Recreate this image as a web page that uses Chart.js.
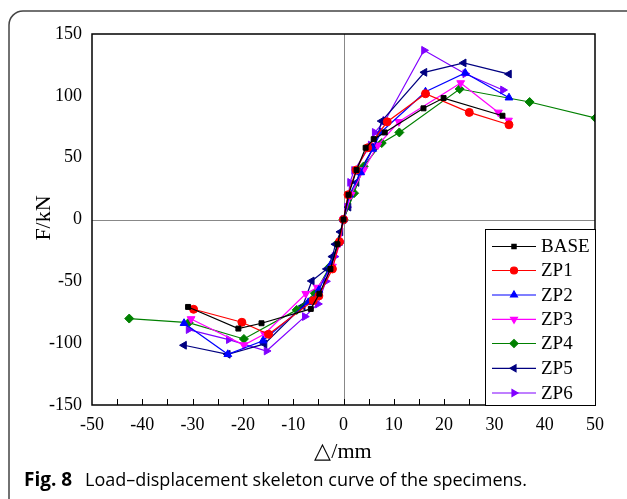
<!DOCTYPE html>
<html>
<head>
<meta charset="utf-8">
<script src="https://cdn.jsdelivr.net/npm/chart.js@4.4.1/dist/chart.umd.min.js"></script>
<style>
html,body{margin:0;padding:0;background:#fff;}
#wrap{width:627px;height:499px;position:relative;}
</style>
</head>
<body>
<div id="wrap"><canvas id="c" width="627" height="499"></canvas></div>
<script>
const seriesNames = ["BASE","ZP1","ZP2","ZP3","ZP4","ZP5","ZP6"];
const xTicks = [-50,-40,-30,-20,-10,0,10,20,30,40,50];
const yTicks = [-150,-100,-50,0,50,100,150];

const baseX = [-30.9,-20.9,-16.3,-6.5,-4.8,-2.6,-1.2,0,1.0,2.6,4.4,6.0,8.2,15.9,19.9,31.6];
const baseY = [-70.7,-88.2,-83.9,-72.3,-60,-40,-20,0,20,40,58,65,70.4,89.9,98.2,83.9];
const zp1X = [-29.8,-20.2,-14.9,-6.0,-4.9,-2.2,-0.8,0,0.9,2.5,4.8,8.7,16.3,25.0,32.9];
const zp1Y = [-72.6,-83.1,-92.8,-65.6,-61.8,-40,-18,0,20,40,58,79,101.7,86.6,76.6];
const zp2X = [-31.7,-23.0,-16.0,-7.0,-4.9,-2.6,-1.0,0,1.2,3.4,5.8,7.4,16.3,24.2,32.9];
const zp2Y = [-83.9,-109,-98,-67,-57,-37,-19,0,20,38,57,70.4,103.3,118.5,98.5];
const zp3X = [-30.3,-19.8,-15.7,-7.5,-5.2,-2.2,-0.7,0,1.5,4.0,6.8,11.0,23.3,30.8,32.8];
const zp3Y = [-80.4,-101.5,-92.6,-60,-55,-38,-19,0,20,40,60,79,110.4,86.6,80.1];
const zp4X = [-42.6,-30.8,-19.8,-9.3,-5.7,-2.7,-0.9,0,2.1,4.0,7.6,11.1,23.1,37.0,50.1];
const zp4Y = [-80.1,-83.4,-96.6,-73.1,-59.6,-38,-18,0,21.3,42.9,61.8,70.4,105.5,95,82];
const zp5X = [-31.7,-23.0,-15.7,-8.1,-6.3,-3.3,-2.2,-1.6,-0.6,0,1.0,2.6,3.3,6.2,7.6,16.1,23.9,32.9];
const zp5Y = [-101.7,-109,-100.6,-70,-49.7,-40,-30,-20,-10,0,10,30,39.7,59.9,79.6,119,126.6,117.6];
const zp6X = [-30.8,-22.8,-15.3,-7.7,-5.1,-3.5,-1.8,-0.8,0,0.7,1.3,2.1,5.4,6.2,8.3,16.0,24.2,31.7];
const zp6Y = [-89,-97.1,-106.3,-78.5,-68.3,-50,-30,-19,0,10,30,39.7,60.2,70.4,80.1,136.8,117.9,104.7];

const allX = [baseX,zp1X,zp2X,zp3X,zp4X,zp5X,zp6X];
const allY = [baseY,zp1Y,zp2Y,zp3Y,zp4Y,zp5Y,zp6Y];
const colors = ["#000000","#ff0000","#0000ff","#ff00ff","#008000","#000080","#8000ff"];
const styles = ["rect","circle","triangle","triangle","rectRot","triangle","triangle"];
const rots = [0,0,0,180,0,-90,90];
const radii = [3.5,4,4.5,4.5,4.5,4.5,4.5];

const datasets = seriesNames.map((n,i)=>({
  label:n,
  data: allX[i].map((x,j)=>({x:x,y:allY[i][j]})),
  showLine:true,
  borderColor:colors[i],
  backgroundColor:colors[i],
  borderWidth:1.2,
  pointStyle:styles[i],
  pointRotation:rots[i],
  pointRadius:radii[i],
  pointBorderWidth:1,
  tension:0
}));

const SERIF = "'Liberation Serif','Times New Roman',serif";

const deco = {
  id:'deco',
  beforeDraw(chart){
    const ctx = chart.ctx;
    ctx.save();
    ctx.fillStyle='#fff';
    ctx.fillRect(0,0,chart.width,chart.height);
    ctx.strokeStyle='#444';
    ctx.lineWidth=1.5;
    const x0=9,y0=11,r=14;
    ctx.beginPath();
    ctx.moveTo(x0+r,y0);
    ctx.lineTo(700,y0);
    ctx.moveTo(x0,700);
    ctx.lineTo(x0,y0+r);
    ctx.arcTo(x0,y0,x0+r,y0,r);
    ctx.stroke();
    ctx.restore();
  },
  beforeDatasetsDraw(chart){
    const ctx=chart.ctx, a=chart.chartArea, xs=chart.scales.x, ys=chart.scales.y;
    ctx.save();
    ctx.strokeStyle='#888';
    ctx.lineWidth=1;
    const zx=Math.round(xs.getPixelForValue(0))+0.5;
    const zy=Math.round(ys.getPixelForValue(0))+0.5;
    ctx.beginPath();
    ctx.moveTo(zx,a.top);ctx.lineTo(zx,a.bottom);
    ctx.moveTo(a.left,zy);ctx.lineTo(a.right,zy);
    ctx.stroke();
    ctx.restore();
  },
  afterDraw(chart){
    const ctx=chart.ctx, a=chart.chartArea, xs=chart.scales.x;
    ctx.save();
    ctx.strokeStyle='#000';
    ctx.lineWidth=1;
    for(let v=-45; v<50; v+=5){
      const px=Math.round(xs.getPixelForValue(v))+0.5;
      ctx.beginPath();
      ctx.moveTo(px,a.bottom);ctx.lineTo(px,a.bottom-6);
      ctx.stroke();
    }
    ctx.lineWidth=1.5;
    ctx.strokeRect(a.left,a.top,a.right-a.left,a.bottom-a.top);
    const lx=485, ly=229, lw=a.right-485, lh=a.bottom-229;
    ctx.fillStyle='#fff';
    ctx.fillRect(lx,ly,lw,lh);
    ctx.lineWidth=1;
    ctx.strokeStyle='#000';
    ctx.strokeRect(lx+0.5,ly+0.5,lw,lh);
    const rowY=[246.5,270.5,295,319.3,343.5,368.3,393];
    chart.data.datasets.forEach((ds,i)=>{
      const y=rowY[i];
      ctx.strokeStyle=ds.borderColor;
      ctx.lineWidth=1.2;
      ctx.beginPath();ctx.moveTo(492,y);ctx.lineTo(536,y);ctx.stroke();
      ctx.fillStyle=ds.backgroundColor;
      Chart.helpers.drawPoint(ctx,{pointStyle:ds.pointStyle,rotation:ds.pointRotation,radius:ds.pointRadius-0.5,borderWidth:1},514,y);
      ctx.fillStyle='#000';
      ctx.font="19px "+SERIF;
      ctx.textAlign='left';ctx.textBaseline='middle';
      ctx.fillText(ds.label,541,y+1);
    });
    ctx.fillStyle='#000';
    ctx.font="22px "+SERIF;
    ctx.textAlign='center';ctx.textBaseline='middle';
    ctx.fillText("\u25B3/mm",343,452);
    ctx.save();
    ctx.translate(44,218);
    ctx.rotate(-Math.PI/2);
    ctx.fillText("F/kN",0,0);
    ctx.restore();
    ctx.textAlign='left';ctx.textBaseline='middle';
    ctx.font="bold 19px 'Open Sans','Noto Sans',sans-serif";
    ctx.fillText("Fig. 8",24,481);
    ctx.font="18px 'Open Sans','Noto Sans',sans-serif";
    ctx.fillText("Load\u2013displacement skeleton curve of the specimens.",85,481);
    ctx.restore();
  }
};

new Chart(document.getElementById('c'),{
  type:'scatter',
  data:{datasets:datasets},
  options:{
    responsive:false,
    animation:false,
    devicePixelRatio:1,
    layout:{padding:{left:0,top:34,right:32,bottom:0}},
    plugins:{legend:{display:false},tooltip:{enabled:false}},
    scales:{
      x:{
        type:'linear',min:-50,max:50,
        afterBuildTicks(s){s.ticks=xTicks.map(v=>({value:v}));},
        afterFit(s){s.height=94;},
        grid:{display:false,drawTicks:false},
        border:{display:false},
        ticks:{color:'#000',font:{family:SERIF,size:18},padding:9,maxRotation:0}
      },
      y:{
        type:'linear',min:-150,max:150,
        afterBuildTicks(s){s.ticks=yTicks.map(v=>({value:v}));},
        afterFit(s){s.width=92;},
        grid:{display:false,drawTicks:false},
        border:{display:false},
        ticks:{color:'#000',font:{family:SERIF,size:18},padding:10}
      }
    }
  },
  plugins:[deco]
});
</script>
</body>
</html>
